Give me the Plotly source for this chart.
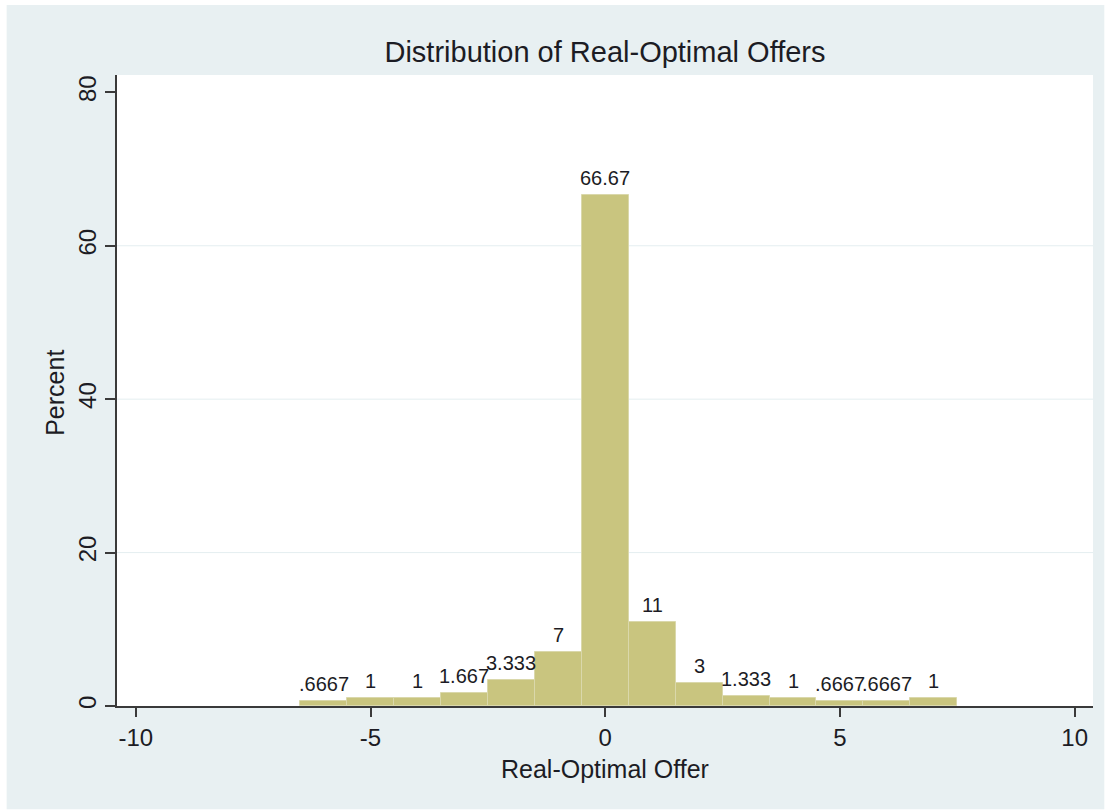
import plotly.graph_objects as go

# Histogram of real minus optimal offers (discrete bins of width 1, in percent)
offer_values = [-6, -5, -4, -3, -2, -1, 0, 1, 2, 3, 4, 5, 6, 7]
percent = [0.6667, 1, 1, 1.667, 3.333, 7, 66.67, 11, 3, 1.333, 1, 0.6667, 0.6667, 1]
x_ticks = [-10, -5, 0, 5, 10]
y_ticks = [0, 20, 40, 60, 80]

W, H = 1109, 810
L, R, T, B = 117.3, 1092.7, 75.0, 705.7  # plot area in pixels
BG = "#e8f0f2"
BAR = "#c9c57f"
EDGE = "#dad8ab"
INK = "#1c1c24"
GRID = "#e4eef0"
FONT = "Liberation Sans, Arial, Helvetica, sans-serif"


def stata_fmt(v):
    s = f"{v:.4g}"
    if s.startswith("0."):
        s = s[1:]
    return s


fig = go.Figure()
fig.add_trace(go.Bar(
    x=offer_values, y=percent, width=1,
    marker=dict(color=BAR, line=dict(color=EDGE, width=1)),
    hoverinfo="x+y",
))

pw, ph = R - L, B - T


def px(xp):
    return (xp - L) / pw


def py(yp):
    return (B - yp) / ph


shapes = [
    dict(type="rect", xref="paper", yref="paper", layer="below",
         x0=px(7), x1=px(1104), y0=py(809), y1=py(5),
         fillcolor=BG, line=dict(width=0)),
    dict(type="rect", xref="paper", yref="paper", layer="below",
         x0=0, x1=1, y0=0, y1=1, fillcolor="white", line=dict(width=0)),
]
# interior gridlines only (none on the axis ends)
for gv in y_ticks[1:-1]:
    shapes.append(dict(type="line", xref="paper", yref="y", layer="below",
                       x0=0, x1=1, y0=gv, y1=gv,
                       line=dict(color=GRID, width=1)))

annotations = [
    dict(x=xv, y=yv, text=stata_fmt(yv), xref="x", yref="y",
         showarrow=False, yanchor="bottom", yshift=4,
         font=dict(family=FONT, size=20, color=INK))
    for xv, yv in zip(offer_values, percent)
]
annotations.append(dict(
    text="Real-Optimal Offer", xref="paper", yref="paper",
    x=0.5, y=py(769), showarrow=False, xanchor="center", yanchor="middle",
    font=dict(family=FONT, size=25, color=INK)))
annotations.append(dict(
    text="Percent", xref="paper", yref="paper", textangle=-90,
    x=px(55), y=py(393), showarrow=False, xanchor="center", yanchor="middle",
    font=dict(family=FONT, size=25, color=INK)))

fig.update_layout(
    width=W, height=H,
    margin=dict(l=L, r=W - R, t=T, b=H - B, autoexpand=False),
    paper_bgcolor="white",
    plot_bgcolor="white",
    bargap=0,
    showlegend=False,
    shapes=shapes,
    annotations=annotations,
    title=dict(
        text="Distribution of Real-Optimal Offers",
        x=0.5, xref="paper", y=1 - 52 / H, yref="container",
        xanchor="center", yanchor="middle",
        font=dict(family=FONT, size=29, color=INK)),
    xaxis=dict(
        range=[-10.40, 10.39], tickmode="array", tickvals=x_ticks,
        ticktext=[str(t) for t in x_ticks],
        ticks="outside", ticklen=9, tickwidth=1.5, tickcolor="#3a3a3a",
        showline=True, linecolor="#3a3a3a", linewidth=1.5,
        showgrid=False, zeroline=False,
        tickfont=dict(family=FONT, size=24, color=INK),
    ),
    yaxis=dict(
        range=[0, 82.26], tickmode="array", tickvals=y_ticks,
        ticktext=[str(t) for t in y_ticks], tickangle=-90,
        ticks="outside", ticklen=10, tickwidth=1.5, tickcolor="#3a3a3a",
        showline=True, linecolor="#3a3a3a", linewidth=1.5,
        showgrid=False, zeroline=False,
        tickfont=dict(family=FONT, size=24, color=INK),
    ),
)

fig.write_html("out.html")
